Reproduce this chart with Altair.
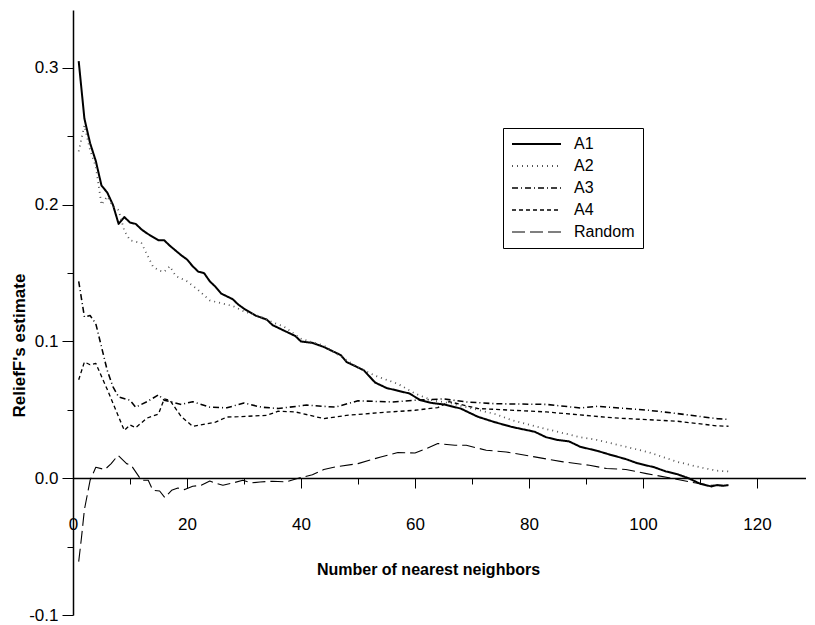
import altair as alt
import pandas as pd

FONT = "Liberation Sans"

series_names = ["A1", "A2", "A3", "A4", "Random"]

a1_x = [1, 2, 3, 4, 5, 6, 7, 8, 9, 10, 11, 12, 13, 15, 16, 17, 19, 20, 21, 22, 23, 24, 25, 26, 27, 28, 29, 30,
        32, 34, 35, 37, 39, 40, 42, 44, 47, 48, 49, 51, 53, 55, 57, 59, 61, 63, 65, 68, 71, 74, 77, 81, 83, 85,
        87, 89, 92, 94, 97, 99, 102, 104, 106, 108, 110, 112, 113, 114, 115]
a1_y = [0.305, 0.263, 0.245, 0.232, 0.214, 0.209, 0.200, 0.186, 0.191, 0.187, 0.186, 0.182, 0.179, 0.174, 0.174,
        0.170, 0.163, 0.160, 0.155, 0.151, 0.150, 0.144, 0.140, 0.135, 0.133, 0.131, 0.127, 0.124, 0.119, 0.116,
        0.112, 0.108, 0.104, 0.100, 0.099, 0.096, 0.090, 0.085, 0.083, 0.079, 0.070, 0.066, 0.064, 0.062, 0.057,
        0.055, 0.054, 0.051, 0.045, 0.041, 0.0375, 0.034, 0.030, 0.028, 0.027, 0.023, 0.020, 0.0175, 0.014,
        0.011, 0.008, 0.005, 0.003, 0.000, -0.004, -0.006, -0.005, -0.0055, -0.005]

a2_x = [1, 2, 3, 4, 5, 6, 7, 8, 9, 10, 12, 14, 15, 16, 17, 18, 20, 22, 24, 26, 28, 30, 33, 35, 37, 40, 44, 47,
        50, 53, 57, 60, 63, 66, 68, 71, 74, 77, 83, 89, 92, 95, 101, 106, 110, 113, 115]
a2_y = [0.239, 0.258, 0.240, 0.228, 0.200, 0.206, 0.199, 0.196, 0.181, 0.174, 0.172, 0.155, 0.152, 0.151, 0.155,
        0.148, 0.144, 0.1375, 0.130, 0.128, 0.126, 0.122, 0.118, 0.114, 0.111, 0.102, 0.097, 0.089, 0.081,
        0.075, 0.069, 0.062, 0.057, 0.055, 0.053, 0.050, 0.047, 0.0425, 0.036, 0.030, 0.028, 0.025, 0.019,
        0.012, 0.008, 0.0055, 0.005]

a3_x = [1, 2, 3, 4, 5, 6, 7, 8, 10, 11, 13, 15, 16, 19, 21, 24, 27, 30, 33, 36, 38, 41, 46, 50, 56, 60, 65, 69,
        74, 83, 89, 92, 101, 106, 113, 115]
a3_y = [0.144, 0.118, 0.119, 0.113, 0.096, 0.079, 0.067, 0.0595, 0.057, 0.052, 0.056, 0.061, 0.057, 0.054,
        0.056, 0.052, 0.0515, 0.055, 0.052, 0.051, 0.052, 0.0535, 0.052, 0.0566, 0.0558, 0.057, 0.058, 0.0558,
        0.0545, 0.054, 0.0514, 0.0526, 0.0497, 0.0473, 0.0436, 0.043]

a4_x = [1, 2, 3, 4, 6, 8, 9, 10, 11, 13, 15, 16, 17, 19, 21, 25, 27, 29, 34, 36, 39, 44, 48, 54, 60, 64, 66, 71,
        83, 95, 106, 113, 115]
a4_y = [0.072, 0.085, 0.083, 0.084, 0.065, 0.045, 0.035, 0.039, 0.037, 0.044, 0.047, 0.058, 0.057, 0.045, 0.038,
        0.041, 0.0448, 0.045, 0.046, 0.049, 0.0485, 0.0436, 0.046, 0.048, 0.0497, 0.0517, 0.056, 0.051, 0.0485,
        0.0441, 0.0417, 0.0383, 0.038]

rnd_x = [1, 1.5, 2, 3, 4, 5.6, 6.7, 7.9, 9.4, 10.2, 12, 13.2, 14, 15.2, 16.1, 17.3, 18.4, 19.6, 21, 22.5, 24,
         25.2, 26.3, 28.1, 29.8, 31.3, 32.8, 35, 37.4, 39.8, 42, 44, 46, 50, 54, 57, 60, 62, 64, 67, 69, 72.5,
         76, 81, 86, 90.6, 93.6, 97, 100.6, 105.3, 108.2, 111.7, 114]
rnd_y = [-0.061, -0.043, -0.023, -0.0015, 0.008, 0.0064, 0.0107, 0.0168, 0.0107, 0.0095, -0.0015, -0.0015,
         -0.0088, -0.0093, -0.0141, -0.0088, -0.0071, -0.0083, -0.0059, -0.0051, -0.002, -0.0039, -0.0051,
         -0.0034, -0.0015, -0.0034, -0.0027, -0.0022, -0.0027, 0.0003, 0.0025, 0.0064, 0.0083, 0.0107, 0.0156,
         0.0188, 0.0185, 0.0217, 0.0254, 0.0241, 0.0241, 0.0205, 0.0192, 0.0156, 0.012, 0.0095, 0.0071, 0.0064,
         0.0034, -0.0002, -0.0027, -0.0051, -0.0051]

x_ticks = [0, 10, 20, 30, 40, 50, 60, 70, 80, 90, 100, 110, 120]
y_ticks = [-0.1, -0.05, 0.0, 0.05, 0.1, 0.15, 0.2, 0.25, 0.3]

series_colors = ["black", "#555555", "black", "black", "black"]
series_dashes = [[1, 0], [1, 4], [6, 3, 1, 3], [4, 3], [13, 5]]
series_widths = [2.0, 1.1, 1.1, 1.1, 1.1]

rows = []
for name, xs, ys in [("A1", a1_x, a1_y), ("A2", a2_x, a2_y), ("A3", a3_x, a3_y),
                     ("A4", a4_x, a4_y), ("Random", rnd_x, rnd_y)]:
    for xv, yv in zip(xs, ys):
        rows.append({"series": name, "k": xv, "est": yv})
df = pd.DataFrame(rows)

x_axis = alt.Axis(
    values=x_ticks,
    tickSize={"condition": {"test": "datum.value % 20 == 0", "value": 10}, "value": 6},
    labelExpr="datum.value % 20 == 0 ? datum.label : ''",
    offset=-137,
    grid=False,
    domainColor="black", domainWidth=1.5,
    tickColor="black", tickWidth=1,
    labelFont=FONT, labelFontSize=17, labelColor="black", labelPadding=28,
    labelBaseline="top", labelAlign="center", labelFlush=False, labelOverlap=False,
    title="Number of nearest neighbors", titleFont=FONT, titleFontSize=16, titleFontWeight="bold",
    titleColor="black", titleX=355, titleY=96, titleAlign="center", titleBaseline="alphabetic",
)

y_axis = alt.Axis(
    values=y_ticks,
    tickSize={"condition": {"test": "abs(round(datum.value*20)) % 2 == 0", "value": 11}, "value": 6},
    labelExpr="abs(round(datum.value*20)) % 2 == 0 ? replace(format(datum.value, '.1f'), '\u2212', '-') : ''",
    grid=False,
    domainColor="black", domainWidth=1.5,
    tickColor="black", tickWidth=1,
    labelFont=FONT, labelFontSize=17, labelColor="black", labelPadding=4,
    labelFlush=False, labelOverlap=False,
    title="ReliefF's estimate", titleFont=FONT, titleFontSize=17, titleFontWeight="bold",
    titleColor="black", titleAngle=270, titleX=-54, titleY=335, titleAlign="center", titleBaseline="middle",
)

chart = alt.Chart(df).mark_line(strokeCap="butt", strokeJoin="round").encode(
    x=alt.X("k:Q", scale=alt.Scale(domain=[0, 128.6], nice=False, zero=False), axis=x_axis),
    y=alt.Y("est:Q", scale=alt.Scale(domain=[-0.1, 0.3424], nice=False, zero=False), axis=y_axis),
    color=alt.Color("series:N", scale=alt.Scale(domain=series_names, range=series_colors),
                    legend=alt.Legend(title=None)),
    strokeDash=alt.StrokeDash("series:N", scale=alt.Scale(domain=series_names, range=series_dashes),
                              legend=alt.Legend(title=None)),
    strokeWidth=alt.StrokeWidth("series:N", scale=alt.Scale(domain=series_names, range=series_widths),
                                legend=alt.Legend(title=None)),
).properties(
    width=733, height=605,
    autosize=alt.AutoSizeParams(type="none"),
    padding={"left": 65, "top": 2, "right": 0, "bottom": 8},
).configure_view(stroke=None).configure_legend(
    orient="none", legendX=430, legendY=118,
    strokeColor="black", fillColor="white", padding=8,
    symbolType="stroke", symbolSize=2400, clipHeight=16, rowPadding=6,
    labelFont=FONT, labelFontSize=16, labelColor="black", labelOffset=12,
)

chart.save("out.html", embed_options={"renderer": "svg", "actions": False})
